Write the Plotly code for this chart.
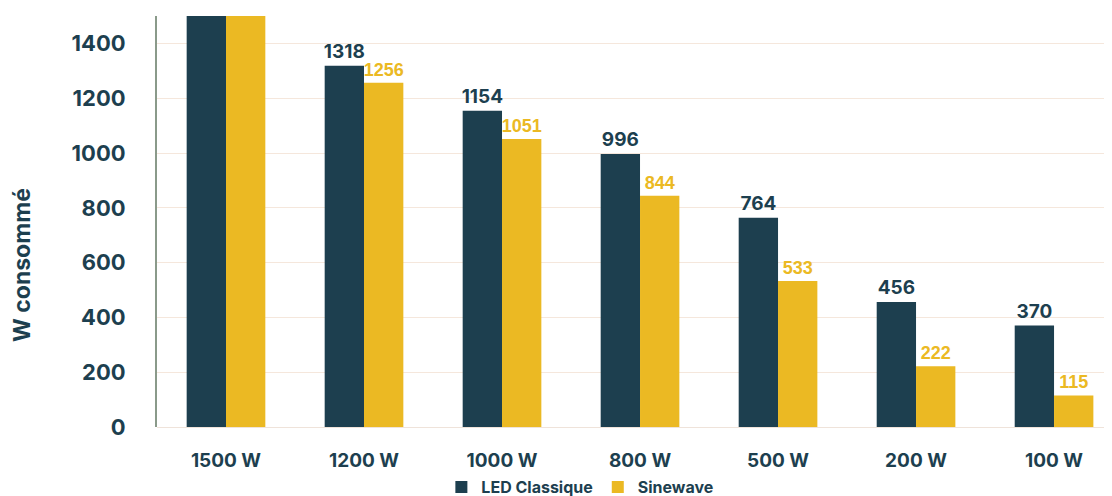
import plotly.graph_objects as go

categories = ["1500 W", "1200 W", "1000 W", "800 W", "500 W", "200 W", "100 W"]
led_classique = [1500, 1318, 1154, 996, 764, 456, 370]
sinewave = [1500, 1256, 1051, 844, 533, 222, 115]
led_labels = ["", "1318", "1154", "996", "764", "456", "370"]
sine_labels = ["", "1256", "1051", "844", "533", "222", "115"]
y_ticks = [0, 200, 400, 600, 800, 1000, 1200, 1400]

NAVY = "#1d3f4f"
YELLOW = "#ebb923"

fig = go.Figure()
fig.add_trace(go.Bar(
    x=categories, y=led_classique, name="LED Classique",
    marker=dict(color=NAVY, line=dict(width=0)),
    text=led_labels, textposition="outside", cliponaxis=False, constraintext="none",
    textfont=dict(family="Inter", size=19, color=NAVY, weight="bold"),
))
fig.add_trace(go.Bar(
    x=categories, y=sinewave, name="Sinewave",
    marker=dict(color=YELLOW, line=dict(width=0)),
    text=sine_labels, textposition="outside", cliponaxis=False, constraintext="none",
    textfont=dict(family="Liberation Sans", size=18, color=YELLOW, weight="bold"),
))

fig.update_layout(
    width=1104, height=488,
    margin=dict(l=149, r=0, t=8, b=69, autoexpand=False),
    paper_bgcolor="white", plot_bgcolor="white",
    barmode="group", bargap=0.43, bargroupgap=0,
    font=dict(family="Inter", color=NAVY),
    showlegend=True,
    legend=dict(
        orientation="h", xref="container", yref="container",
        x=0.518, xanchor="center", y=0.018, yanchor="middle",
        font=dict(family="Inter", size=16, color=NAVY, weight="bold"),
        tracegroupgap=0, bgcolor="rgba(0,0,0,0)",
    ),
    xaxis=dict(
        range=[-0.5, 6.42], showgrid=False, showline=False, ticks="",
        tickangle=0,
        tickfont=dict(family="Inter", size=19, color=NAVY, weight="bold"),
        ticklabelstandoff=20,
    ),
    yaxis=dict(
        range=[0, 1500], tickvals=y_ticks,
        showgrid=True, gridcolor="#f5e7dc", gridwidth=1,
        zeroline=True, zerolinecolor="#efe3da", zerolinewidth=1,
        showline=True, linecolor="#8a9a8a", linewidth=2,
        ticks="", ticklabelstandoff=25,
        tickfont=dict(family="Inter", size=22, color=NAVY, weight="bold"),
    ),
    annotations=[dict(
        text="W consommé", textangle=-90, xref="paper", yref="paper",
        x=-0.1414, y=0.394, xanchor="center", yanchor="middle", showarrow=False,
        font=dict(family="Inter", size=23, color=NAVY, weight="bold"),
    )],
)

fig.write_html("out.html")
